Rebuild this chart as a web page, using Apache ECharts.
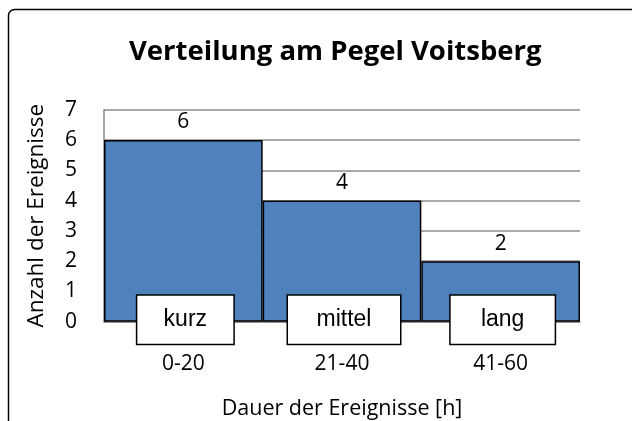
<!DOCTYPE html>
<html>
<head>
<meta charset="utf-8">
<script src="https://cdn.jsdelivr.net/npm/echarts@6/dist/echarts.min.js"></script>
<style>
  html, body { margin: 0; padding: 0; background: #fff; }
  #chart { width: 632px; height: 421px; }
</style>
</head>
<body>
<div id="chart"></div>
<script>
// Duration classes and event counts
const categories = ['0-20', '21-40', '41-60'];
const counts = [6, 4, 2];
const classNames = ['kurz', 'mittel', 'lang'];
const classBoxWidths = [96, 112, 104];
const yTicks = { min: 0, max: 7, interval: 1 };

const chart = echarts.init(document.getElementById('chart'), null, { renderer: 'canvas' });

const mainFont = '"Open Sans", "Noto Sans", sans-serif';
const boxFont = '"Liberation Sans", Arial, sans-serif';

const option = {
  backgroundColor: '#fff',
  animation: false,
  title: {
    text: 'Verteilung am Pegel Voitsberg',
    left: 129,
    top: 38,
    padding: 0,
    textStyle: { fontFamily: mainFont, fontWeight: 'bold', fontSize: 27.5, color: '#000' }
  },
  graphic: [{
    type: 'rect',
    shape: { x: 8.5, y: 9.5, width: 700, height: 500, r: 6 },
    style: { fill: 'none', stroke: '#000', lineWidth: 1.5 },
    silent: true
  }],
  grid: {
    left: 104, right: 52, top: 109.7, bottom: 99.3,
    containLabel: false,
    outerBoundsMode: 'none'
  },
  xAxis: {
    type: 'category',
    data: categories,
    name: 'Dauer der Ereignisse [h]',
    nameLocation: 'middle',
    nameGap: 76,
    nameTextStyle: { fontFamily: mainFont, fontSize: 21.5, color: '#000' },
    axisLine: { show: true, lineStyle: { color: '#888', width: 1.5 } },
    axisTick: { show: false },
    axisLabel: { fontFamily: mainFont, fontSize: 21, color: '#000', margin: 32 }
  },
  yAxis: {
    type: 'value',
    min: yTicks.min,
    max: yTicks.max,
    interval: yTicks.interval,
    name: 'Anzahl der Ereignisse',
    nameLocation: 'middle',
    nameGap: 56,
    nameRotate: 90,
    nameTextStyle: { fontFamily: mainFont, fontSize: 22.5, color: '#000' },
    axisLine: { show: true, lineStyle: { color: '#888', width: 1.5 } },
    axisTick: { show: false },
    axisLabel: { fontFamily: mainFont, fontSize: 21, color: '#000', margin: 27 },
    splitLine: { show: true, lineStyle: { color: '#8c8c8c', width: 1.5 } }
  },
  series: [
    {
      type: 'bar',
      data: counts,
      barWidth: '100%',
      barGap: '0%',
      barCategoryGap: '0%',
      itemStyle: { color: '#4f81bd', borderColor: '#000', borderWidth: 1.5 },
      label: {
        show: true,
        position: 'top',
        distance: 7,
        fontFamily: mainFont,
        fontSize: 21,
        color: '#000'
      },
      emphasis: { disabled: true },
      z: 2
    },
    {
      type: 'scatter',
      symbolSize: 0,
      clip: false,
      z: 5,
      itemStyle: { opacity: 1 },
      emphasis: { disabled: true },
      data: categories.map((c, i) => ({
        value: [i, 0],
        name: classNames[i],
        label: { width: classBoxWidths[i] }
      })),
      label: {
        show: true,
        position: 'inside',
        offset: [2, -2],
        formatter: p => p.name,
        fontFamily: boxFont,
        fontSize: 23,
        color: '#000',
        opacity: 1,
        backgroundColor: '#fff',
        borderColor: '#000',
        borderWidth: 1.5,
        height: 48,
        lineHeight: 48,
        align: 'center',
        verticalAlign: 'middle'
      }
    }
  ]
};

chart.setOption(option);
</script>
</body>
</html>
